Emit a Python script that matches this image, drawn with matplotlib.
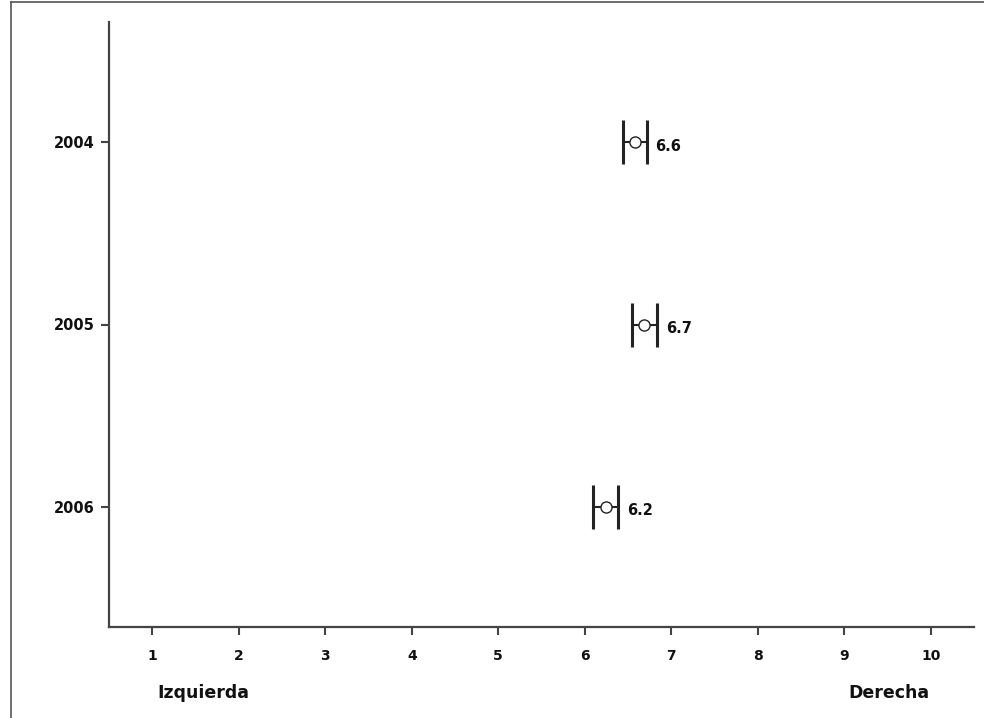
import matplotlib.pyplot as plt
from matplotlib.lines import Line2D
from matplotlib.transforms import blended_transform_factory

# values
years = ["2004", "2005", "2006"]
means = [6.58, 6.69, 6.24]
ci_low = [6.44, 6.55, 6.10]
ci_high = [6.72, 6.84, 6.39]
mean_labels = ["6.6", "6.7", "6.2"]
x_ticks = [1, 2, 3, 4, 5, 6, 7, 8, 9, 10]

fig = plt.figure(figsize=(9.84, 7.18), dpi=100)
ax = fig.add_axes([109 / 984, 1 - 627 / 718, 865 / 984, 605 / 718])

ypos = list(range(len(years)))
xerr = [[m - lo for m, lo in zip(means, ci_low)],
        [hi - m for m, hi in zip(means, ci_high)]]

_, caps, _ = ax.errorbar(means, ypos, xerr=xerr, fmt="o", color="#222222",
                         ecolor="#222222", elinewidth=1.5, capsize=16,
                         capthick=2.0, markersize=8.0,
                         markerfacecolor="white", markeredgecolor="#222222",
                         markeredgewidth=1.0)
for c in caps:
    c.set_markeredgewidth(2.2)

for y, hi, lab in zip(ypos, ci_high, mean_labels):
    ax.annotate(lab, xy=(hi, y), xytext=(6, -3), textcoords="offset points",
                ha="left", va="center", fontsize=10.5, fontweight="bold",
                color="#111111")

ax.set_xlim(0.5, 10.5)
ax.set_ylim(2.66, -0.66)
ax.set_xticks(x_ticks)
ax.set_xticklabels([str(t) for t in x_ticks], fontweight="bold", fontsize=10)
ax.set_yticks(ypos)
ax.set_yticklabels(years, fontweight="bold", fontsize=10.5)

for side in ["top", "right"]:
    ax.spines[side].set_visible(False)
for side in ["left", "bottom"]:
    ax.spines[side].set_color("#444444")
    ax.spines[side].set_linewidth(1.6)

ax.tick_params(axis="x", length=6, width=1.5, color="#444444", pad=10,
               labelcolor="#111111")
ax.tick_params(axis="y", length=6, width=1.5, color="#444444", pad=4,
               labelcolor="#111111")

trans = blended_transform_factory(ax.transData, ax.transAxes)
ax.text(1.06, -0.109, "Izquierda", transform=trans, ha="left", va="center",
        fontsize=12.5, fontweight="bold", color="#111111")
ax.text(9.98, -0.109, "Derecha", transform=trans, ha="right", va="center",
        fontsize=12.5, fontweight="bold", color="#111111")

# outer frame (left and top edges visible in the reference)
fig.add_artist(Line2D([11 / 984, 11 / 984], [0, 1 - 2 / 718],
                      transform=fig.transFigure, color="#555555", lw=1.2))
fig.add_artist(Line2D([11 / 984, 1], [1 - 2 / 718, 1 - 2 / 718],
                      transform=fig.transFigure, color="#555555", lw=1.2))

fig.savefig("out.png", dpi=100)
